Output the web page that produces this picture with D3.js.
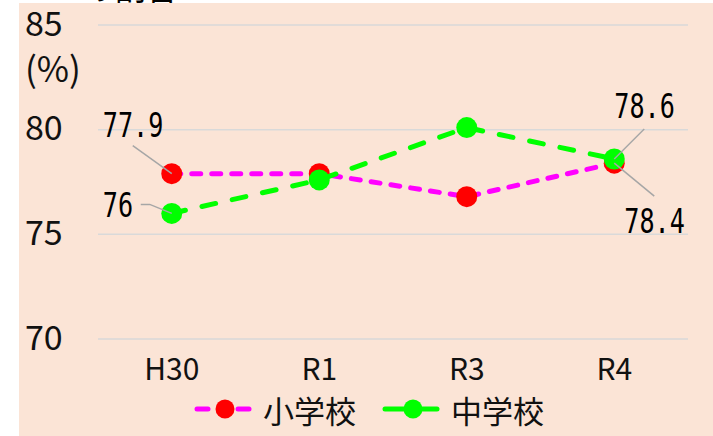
<!DOCTYPE html>
<html>
<head>
<meta charset="utf-8">
<script src="https://cdn.jsdelivr.net/npm/d3@7"></script>
<style>
  html, body { margin: 0; padding: 0; background: #ffffff; }
  svg { display: block; }
  .jp { font-family: "Noto Sans CJK JP", "Noto Sans", sans-serif; }
  .val { font-family: "DejaVu Sans Mono", "Liberation Mono", monospace; }
</style>
</head>
<body>
<svg id="chart" width="713" height="436"></svg>
<script>
// School years on the x axis
const categories = ["H30", "R1", "R3", "R4"];
// Percentages per school type
const elementary = [77.9, 77.9, 76.8, 78.4];   // 小学校
const juniorHigh = [76.0, 77.6, 80.1, 78.6];   // 中学校
const yTicks = [70, 75, 80, 85];
const seriesNames = ["小学校", "中学校"];
// Values that carry a printed label: [series index, category index]
const labelled = [[0, 0], [1, 0], [1, 3], [0, 3]];

const svg = d3.select("#chart");
const W = 713, H = 436;

// Title line above the panel (only its lower edge shows)
svg.append("text").attr("class", "jp")
  .attr("x", 82).attr("y", 0)
  .attr("font-size", 32).attr("fill", "#000")
  .text("の割合");

// Chart panel
svg.append("rect")
  .attr("x", 19).attr("y", 3).attr("width", W - 19).attr("height", H - 3)
  .attr("fill", "#FBE4D6");

const x = d3.scaleBand().domain(categories).range([98, 688]).padding(0);
const y = d3.scaleLinear().domain([70, 85]).range([339, 25]);
const cx = c => x(c) + x.bandwidth() / 2;

// Horizontal gridlines
svg.append("g").selectAll("line").data(yTicks).join("line")
  .attr("x1", 98).attr("x2", 688)
  .attr("y1", d => y(d)).attr("y2", d => y(d))
  .attr("stroke", "#D9D9D9").attr("stroke-width", 1.5);

// Y axis labels
const yAxis = d3.axisLeft(y).tickValues(yTicks).tickSize(0).tickPadding(0);
const gy = svg.append("g").attr("transform", "translate(25,0)").call(yAxis);
gy.select(".domain").remove();
gy.selectAll("text")
  .attr("class", "jp")
  .attr("text-anchor", "start")
  .attr("font-size", 34)
  .attr("fill", "#111")
  .attr("dy", null)
  .attr("y", 10);

svg.append("text").attr("class", "jp")
  .attr("x", 25).attr("y", 82)
  .attr("font-size", 35).attr("fill", "#111")
  .text("(%)");

// X axis labels
const xAxis = d3.axisBottom(x).tickSize(0).tickPadding(0);
const gx = svg.append("g").attr("transform", "translate(0,380)").call(xAxis);
gx.select(".domain").remove();
gx.selectAll("text")
  .attr("class", "jp")
  .attr("font-size", 30)
  .attr("fill", "#111")
  .attr("dy", null)
  .attr("y", 0);

const series = [
  { name: seriesNames[0], values: elementary, line: "#FF00FF", dot: "#FF0000", dash: "9,11", width: 5 },
  { name: seriesNames[1], values: juniorHigh, line: "#00FF00", dot: "#00FF00", dash: "14,17", width: 5 }
];

const lineGen = d3.line().x((d, i) => cx(categories[i])).y(d => y(d));

// Leader lines and value labels (offsets relative to the point)
const labelOffsets = [
  { dx: -69, dy: -37, lead: [[-39, -28], [0, 0]] },
  { dx: -69, dy: 4, lead: [[-31, -9], [-22, -9], [0, 0]] },
  { dx: 0, dy: -41, lead: [[30, -30], [0, 0]] },
  { dx: 10, dy: 70, lead: [[40, 33], [0, 0]] }
];

series.forEach((s, si) => {
  svg.append("path")
    .datum(s.values)
    .attr("d", lineGen)
    .attr("fill", "none")
    .attr("stroke", s.line)
    .attr("stroke-width", s.width)
    .attr("stroke-dasharray", s.dash)
    .attr("stroke-linecap", "round");
  svg.append("g").selectAll("circle").data(s.values).join("circle")
    .attr("cx", (d, i) => cx(categories[i]))
    .attr("cy", d => y(d))
    .attr("r", 10.5)
    .attr("fill", s.dot);
});

labelled.forEach(([si, ci], k) => {
  const v = series[si].values[ci];
  const px = cx(categories[ci]), py = y(v);
  const o = labelOffsets[k];
  svg.append("path")
    .attr("d", d3.line()(o.lead.map(p => [px + p[0], py + p[1]])))
    .attr("fill", "none").attr("stroke", "#A6A6A6").attr("stroke-width", 1.5);
  svg.append("g")
    .attr("transform", `translate(${px + o.dx},${py + o.dy}) scale(0.74,1)`)
    .append("text").attr("class", "val")
    .attr("x", 0).attr("y", 0)
    .attr("font-size", 34).attr("fill", "#000")
    .text(Number.isInteger(v) ? String(v) : v.toFixed(1));
});

// Legend
const legend = svg.append("g");
const legendX = [195, 383];
series.forEach((s, si) => {
  const lx = legendX[si];
  const g = legend.append("g").attr("transform", `translate(${lx},409)`);
  if (si === 0) {
    g.append("line").attr("x1", 2).attr("x2", 13).attr("y1", 0).attr("y2", 0)
      .attr("stroke", s.line).attr("stroke-width", 5).attr("stroke-linecap", "round");
    g.append("line").attr("x1", 43).attr("x2", 54).attr("y1", 0).attr("y2", 0)
      .attr("stroke", s.line).attr("stroke-width", 5).attr("stroke-linecap", "round");
  } else {
    g.append("line").attr("x1", 2).attr("x2", 54).attr("y1", 0).attr("y2", 0)
      .attr("stroke", s.line).attr("stroke-width", 5).attr("stroke-linecap", "round");
  }
  g.append("circle").attr("cx", 30).attr("cy", 0).attr("r", 9.5).attr("fill", s.dot);
  g.append("text").attr("class", "jp")
    .attr("x", 68).attr("y", 14)
    .attr("font-size", 31).attr("fill", "#111")
    .text(s.name);
});
</script>
</body>
</html>
